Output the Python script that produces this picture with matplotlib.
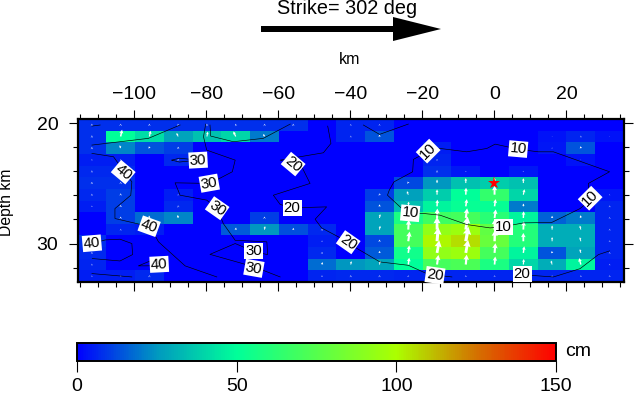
import numpy as np
import matplotlib
matplotlib.use("Agg")
import matplotlib.pyplot as plt
from matplotlib.colors import LinearSegmentedColormap, Normalize
from matplotlib.ticker import MultipleLocator
from matplotlib.patches import FancyArrow

plt.rcParams["font.family"] = ["Liberation Sans", "DejaVu Sans"]

# slip per cell in cm, top row first
slip = np.array([
    [8, 8, 8, 8, 8, 8, 8, 8, 0, 6, 6, 0, 0, 0, 0, 0, 0, 0, 0],
    [8, 50, 42, 28, 35, 40, 20, 0, 0, 6, 14, 0, 0, 0, 0, 0, 3, 6, 3],
    [8, 22, 14, 10, 0, 0, 0, 0, 0, 0, 0, 0, 5, 0, 0, 0, 4, 14, 0],
    [5, 5, 0, 7, 0, 0, 0, 0, 0, 0, 0, 0, 6, 0, 0, 0, 0, 3, 0],
    [7, 7, 0, 0, 0, 0, 0, 0, 0, 0, 0, 0, 8, 4, 0, 4, 0, 0, 0],
    [8, 8, 0, 0, 0, 0, 0, 0, 0, 0, 0, 12, 25, 35, 38, 35, 0, 0, 0],
    [7, 10, 0, 5, 0, 0, 0, 0, 0, 0, 10, 27, 38, 50, 65, 40, 0, 0, 4],
    [5, 10, 0, 7, 0, 0, 0, 0, 0, 0, 14, 34, 48, 52, 52, 20, 0, 0, 6],
    [0, 10, 18, 22, 0, 0, 10, 0, 0, 0, 28, 58, 68, 70, 62, 48, 16, 20, 6],
    [0, 6, 5, 0, 0, 15, 25, 13, 7, 0, 28, 70, 92, 95, 78, 60, 30, 30, 6],
    [8, 0, 0, 0, 0, 0, 0, 0, 5, 0, 12, 70, 101, 106, 80, 60, 30, 30, 6],
    [7, 0, 0, 0, 0, 0, 0, 0, 7, 0, 15, 55, 92, 95, 70, 48, 14, 28, 6],
    [6, 0, 0, 0, 0, 0, 0, 0, 18, 25, 28, 50, 70, 72, 58, 40, 30, 48, 5],
    [5, 5, 7, 0, 0, 0, 0, 0, 6, 7, 7, 6, 6, 6, 6, 6, 6, 6, 6],
], dtype=float)

# arrow tilt from vertical in degrees, clockwise positive
tilt = np.array([
    [0, 10, 10, -20, 0, -20, -20, 0, 0, 0, 0, 0, 0, 0, 0, 0, 0, 0, 0],
    [0, 12, 12, -25, 10, -25, -25, 0, 0, 0, 0, 0, 0, 0, 0, 0, 0, 0, 0],
    [0, -20, -15, 0, 0, 0, 0, 0, 0, 0, 0, 0, 0, 0, 0, 0, 0, -10, 0],
    [0, 0, 0, 0, 0, 0, 0, 0, 0, 0, 0, 0, 0, 0, 0, 0, 0, 0, 0],
    [0, 0, 0, 0, 0, 0, 0, 0, 0, 0, 0, 0, 0, 0, 0, 0, 0, 0, 0],
    [0, 0, 0, 0, 0, 0, 0, 0, 0, 0, 0, -25, 0, 0, 0, 0, 0, 0, 0],
    [0, 0, 0, 0, 0, 0, 0, 0, 0, 0, -20, -20, 0, 2, 0, 12, 0, 0, 0],
    [0, 0, 0, -10, 0, 0, 0, 0, 0, 0, 5, 5, 3, 8, 8, 3, 0, 0, 0],
    [0, 0, -10, -10, 0, 0, 5, 0, 0, 0, 10, 3, 2, 8, 8, 3, 0, -10, 0],
    [0, 0, 0, 0, 0, 10, 10, 10, 10, 0, 10, 3, 0, 8, 2, 3, 0, -15, 0],
    [0, 0, 0, 0, 0, 0, 0, 0, 10, 0, 5, 8, 5, 10, 2, 0, 0, -15, 0],
    [0, 0, 0, 0, 0, 0, 0, 0, 10, 0, 5, 8, 10, 10, 5, 8, -10, -15, 0],
    [0, 0, 0, 0, 0, 0, 0, 0, 10, 10, 10, 8, 8, 5, 5, 5, -15, -15, 0],
    [0, 0, 0, 0, 0, 0, 0, 0, 0, 0, 0, 0, 0, 0, 0, 0, 0, 0, 0],
], dtype=float)

# rupture contours, (along strike km, depth km)
contour_10 = [(-18.6, 22.37), (-22.5, 23.0), (-22.7, 24.03), (-27.9, 24.87), (-29.2, 25.56),
              (-29.7, 25.98), (-25.7, 27.09), (-23.4, 27.5), (-19.7, 27.5), (-15.1, 27.64),
              (-7.7, 28.42), (-1.2, 28.7), (2.5, 28.6), (8.1, 28.28), (15.9, 28.25),
              (23.8, 27.09), (26.6, 26.39), (26.1, 25.84), (26.1, 25.0), (32, 24.03),
              (16.4, 22.37), (12.2, 22.37), (6.9, 22.17), (0.2, 21.73), (-2.1, 22.09),
              (-7.7, 22.37), (-15.1, 22.09), (-18.6, 22.37)]
contour_20a = [(-46.3, 20.23), (-45.4, 21.67), (-47.5, 22.45), (-59.5, 23.06), (-53.5, 23.62),
               (-51.2, 25.0), (-61.4, 25.98), (-59.5, 26.75), (-56.1, 27.03), (-46.6, 26.95),
               (-49.8, 27.98), (-48, 28.7), (-43.3, 29.45), (-40.5, 30.0), (-31.8, 31.53),
               (-23.9, 31.81), (-18.8, 32.5), (-16, 32.64), (-11.8, 32.78)]
contour_20b = [(7.9, 32.6), (16.4, 32.78), (23.8, 32.09), (28.9, 30.92), (32, 30.61)]
contour_30a = [(-80.2, 20.06), (-80.8, 21.12), (-79.9, 22.23), (-72, 23.06), (-72.8, 24.03),
               (-79, 25.0), (-88.7, 24.95), (-87.3, 25.98), (-79.9, 26.39), (-76.9, 27.14),
               (-75.3, 28.34), (-72, 29.73), (-63.2, 29.86), (-63, 30.92), (-66.5, 30.7),
               (-72, 30), (-79, 30.9), (-66.6, 31.95), (-59.5, 32.78)]
contour_30b = [(-89.6, 23.06), (-87.5, 23.22), (-82.2, 23.06), (-87.5, 22.9), (-89.6, 23.06)]
contour_30c = [(-36.4, 20.14), (-31.9, 20.92), (-23.9, 20.06)]
contour_30d = [(-111.8, 20.23), (-109.5, 20.14)]
contour_30e = [(-111.8, 21.81), (-96.1, 21.25), (-87.3, 20.14)]
contour_30f = [(-79, 20.14), (-78.8, 21.06), (-72.5, 21.53), (-64.2, 21.25), (-56.7, 20.06)]
contour_40a = [(-111.8, 22.5), (-105.8, 22.78), (-103, 23.95), (-100.7, 24.87), (-101, 25.98),
               (-102.6, 26.39), (-105.4, 27.09), (-105.4, 27.92), (-95.6, 28.6), (-93.3, 29.86),
               (-85.9, 31.86), (-77.1, 32.78)]
contour_40b = [(-111.7, 30), (-108.1, 29.7), (-104, 29.64), (-100.7, 30), (-100.5, 30.92),
               (-104, 31.45), (-111.7, 31.25)]
contour_40c = [(-95.6, 31.45), (-98.9, 31.86), (-93, 31.85)]
contour_40d = [(-111.8, 32.5), (-100.7, 32.78)]
contours = [contour_10, contour_20a, contour_20b, contour_30a, contour_30b, contour_30c,
            contour_30d, contour_30e, contour_30f, contour_40a, contour_40b, contour_40c,
            contour_40d]

# contour labels: x km, depth km, text, rotation
labels = [(-18.4, 22.31, "10", 45), (6.6, 22.14, "10", -5), (-23.4, 27.48, "10", -5),
          (2.4, 28.64, "10", 0), (26.6, 26.23, "10", 45),
          (-55.9, 23.39, "20", -40), (-56.2, 27.06, "20", 0), (-40.6, 29.89, "20", -35),
          (-16.5, 32.64, "20", -8), (7.7, 32.56, "20", 0),
          (-82.3, 23.06, "30", 3), (-79.2, 24.98, "30", 10), (-77, 27.06, "30", -35),
          (-66.8, 30.64, "30", 0), (-66.8, 32.06, "30", -10),
          (-103.1, 24.06, "40", -40), (-95.9, 28.56, "40", -20), (-111.8, 29.98, "40", 5),
          (-93.1, 31.73, "40", 3)]

x_lim = (-115.8, 36.0)
y_lim = (33.2, 19.64)
hypo = (0, 25.0)

W, H = 634, 394
fig = plt.figure(figsize=(W / 100, H / 100), dpi=100)


def px_axes(x0, y0, x1, y1):
    return fig.add_axes([x0 / W, 1 - y1 / H, (x1 - x0) / W, (y1 - y0) / H])


cmap = LinearSegmentedColormap.from_list("slip", [
    (0, (0, 0, 1)),
    (25 / 150, (0, 0.6, 0.75)),
    (50 / 150, (0, 1, 0.6)),
    (100 / 150, (0.67, 1, 0)),
    (125 / 150, (0.83, 0.45, 0)),
    (1, (1, 0, 0)),
])
norm = Normalize(0, 150)

ax = px_axes(77.5, 119, 624, 282)
nrows, ncols = slip.shape
x_edges = np.linspace(x_lim[0], x_lim[1], ncols + 1)
y_edges = np.linspace(y_lim[1], y_lim[0], nrows + 1)
ax.pcolormesh(x_edges, y_edges, slip, cmap=cmap, norm=norm)
ax.set_xlim(x_lim)
ax.set_ylim(y_lim)

# slip arrows, tail on cell centre, thickness grows with slip
xc = (x_edges[:-1] + x_edges[1:]) / 2
yc = (y_edges[:-1] + y_edges[1:]) / 2
for i in range(nrows):
    for j in range(ncols):
        s = slip[i, j]
        if s == 0:
            continue
        t = np.radians(tilt[i, j])
        ax.quiver(xc[j], yc[i], s * np.sin(t), s * np.cos(t), angles="uv", scale_units="dots",
                  scale=7.2, pivot="tail", units="dots", width=max(0.9, s * 0.03),
                  headwidth=2.6, headlength=2.4, headaxislength=2.2,
                  minlength=0.5, minshaft=0.5, color="white", zorder=3)

for c in contours:
    pts = np.array(c)
    ax.plot(pts[:, 0], pts[:, 1], color="black", lw=0.45, zorder=4)

for x, y, s, rot in labels:
    ax.text(x, y, s, rotation=rot, ha="center", va="center", fontsize=10.8, zorder=5,
            rotation_mode="anchor",
            bbox=dict(facecolor="white", edgecolor="none", pad=0.8))

ax.plot(*hypo, marker="*", color="red", ms=9.5, mew=0, zorder=6)

ax.xaxis.set_major_locator(MultipleLocator(20))
ax.xaxis.set_minor_locator(MultipleLocator(5))
ax.yaxis.set_major_locator(MultipleLocator(10))
ax.yaxis.set_minor_locator(MultipleLocator(2))
ax.tick_params(which="both", top=True, bottom=True, left=True, right=True,
               labeltop=True, labelbottom=False, direction="out", width=0.8)
ax.tick_params(which="major", length=6.8, labelsize=14)
ax.tick_params(axis="x", which="major", pad=5)
ax.tick_params(axis="y", which="major", pad=7)
ax.tick_params(which="minor", length=3.6)
for sp in ax.spines.values():
    sp.set_linewidth(1.6)

# colour bar
cax = px_axes(77, 343, 556, 361)
sm = plt.cm.ScalarMappable(norm=norm, cmap=cmap)
cb = fig.colorbar(sm, cax=cax, orientation="horizontal", ticks=[0, 50, 100, 150])
cb.outline.set_linewidth(1.4)
cax.tick_params(length=8, width=0.8, labelsize=14, pad=4)

# strike arrow and free text
over = fig.add_axes([0, 0, 1, 1], facecolor="none")
over.set_xlim(0, W)
over.set_ylim(H, 0)
over.axis("off")
over.add_patch(FancyArrow(261, 29, 180, 0, width=6, head_width=24, head_length=48,
                          length_includes_head=True, color="black", lw=0))
over.text(347, 8, "Strike= 302 deg", ha="center", va="center", fontsize=14.3)
over.text(350, 59, "km", ha="center", va="center", fontsize=11.5)
over.text(7, 202, "Depth km", ha="center", va="center", rotation=90, fontsize=11.3)
over.text(565, 352, "cm", ha="left", va="center", fontsize=14)

fig.savefig("out.png", dpi=100)
